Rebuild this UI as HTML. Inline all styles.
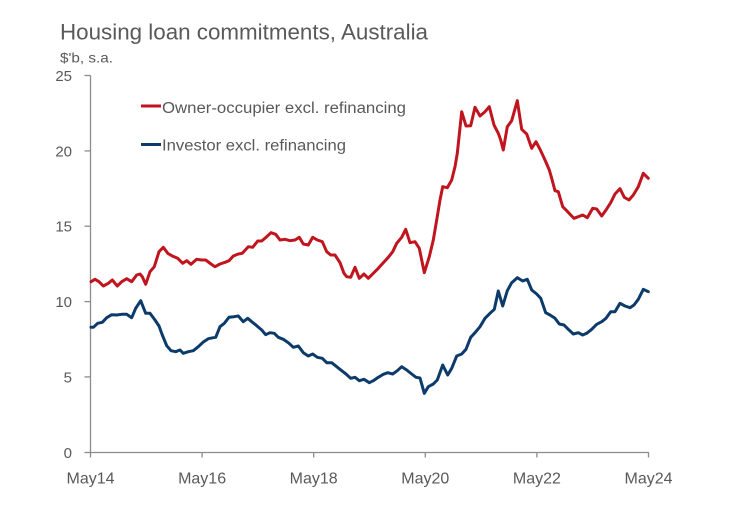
<!DOCTYPE html>
<html><head><meta charset="utf-8"><style>
html,body{margin:0;padding:0;background:#fff;}
svg{display:block;}
text{font-family:"Liberation Sans",Arial,sans-serif;fill:#595959;}
</style></head><body>
<svg width="745" height="511" viewBox="0 0 745 511" xmlns="http://www.w3.org/2000/svg">
<rect width="745" height="511" fill="#fff"/>
<text x="60" y="39.5" font-size="22" textLength="368" lengthAdjust="spacingAndGlyphs">Housing loan commitments, Australia</text>
<text x="60" y="62.5" font-size="14" textLength="53" lengthAdjust="spacingAndGlyphs">$'b, s.a.</text>
<g stroke="#8c8c8c" stroke-width="1.3" fill="none">
<line x1="90.5" y1="75.5" x2="90.5" y2="452.5"/>
<line x1="90" y1="452.5" x2="649" y2="452.5"/>
<line x1="84.5" y1="75.5" x2="90.5" y2="75.5"/>
<line x1="84.5" y1="150.9" x2="90.5" y2="150.9"/>
<line x1="84.5" y1="226.2" x2="90.5" y2="226.2"/>
<line x1="84.5" y1="301.6" x2="90.5" y2="301.6"/>
<line x1="84.5" y1="376.9" x2="90.5" y2="376.9"/>
<line x1="84.5" y1="452.5" x2="90.5" y2="452.5"/>
<line x1="90.5" y1="452.5" x2="90.5" y2="457.5"/>
<line x1="202.1" y1="452.5" x2="202.1" y2="457.5"/>
<line x1="313.7" y1="452.5" x2="313.7" y2="457.5"/>
<line x1="425.3" y1="452.5" x2="425.3" y2="457.5"/>
<line x1="536.9" y1="452.5" x2="536.9" y2="457.5"/>
<line x1="648.5" y1="452.5" x2="648.5" y2="457.5"/>
</g>
<g font-size="15" text-anchor="end">
<text x="72" y="81">25</text>
<text x="72" y="156.4">20</text>
<text x="72" y="231.7">15</text>
<text x="72" y="307.1">10</text>
<text x="72" y="382.4">5</text>
<text x="72" y="458">0</text>
</g>
<g font-size="16" text-anchor="middle">
<text x="90.5" y="483.5">May14</text>
<text x="202.1" y="483.5">May16</text>
<text x="313.7" y="483.5">May18</text>
<text x="425.3" y="483.5">May20</text>
<text x="536.9" y="483.5">May22</text>
<text x="648.5" y="483.5">May24</text>
</g>
<line x1="141" y1="106" x2="161" y2="106" stroke="#C0141E" stroke-width="3"/>
<text x="162" y="113" font-size="15.5" textLength="244" lengthAdjust="spacingAndGlyphs">Owner-occupier excl. refinancing</text>
<line x1="141" y1="144.5" x2="161" y2="144.5" stroke="#0C3B6B" stroke-width="3"/>
<text x="162" y="150.5" font-size="15.5" textLength="184" lengthAdjust="spacingAndGlyphs">Investor excl. refinancing</text>
<polyline fill="none" stroke="#C0141E" stroke-width="3" stroke-linejoin="round" stroke-linecap="round" points="91,281.7 95,279.3 99,281.7 103.3,286 108.3,283.3 112.3,280 117.3,286 121.7,281.7 126.7,278.7 131.7,281.7 136.7,275 140,274 142.3,276.7 145.7,284.3 150,271.7 154.3,266.7 159,251.7 163.3,247.3 167.7,253.3 172.3,256 177.7,258.3 182.7,263.3 186.7,260.7 191,264.3 196.7,259.3 201.7,260 205.7,260 211,264 215,266.7 220,264 225,262.3 229,260.7 233.3,256 238.3,254 242.3,253.3 248.3,246.7 252.7,247.3 257.7,241 261.7,241 266.7,236.7 271,232.7 275.7,234.3 280,240 285,239.3 290,240.7 295,240 299.3,237.3 303.3,244 308.3,245 312.7,237.3 317.3,240 322.3,241.7 326.7,251.7 330.7,255 335,255 340,262.7 344,273.3 346.7,276.7 350.7,277.3 355,267.3 359.3,278.3 364,274 368.3,278.3 373.3,273.3 378.3,268.3 383.3,262.7 388.3,257.3 392.7,251.7 396.7,243.3 401.7,237.3 405.7,229.3 410,242.7 415,241.7 419.3,248.3 424.3,272.7 429.3,256.7 433.3,240 436.7,220 440,200 442.7,186.7 447.3,187.7 451.7,180 455,166.7 457.3,153.3 461.7,111.7 466,126 470.7,125.7 475,107.3 480,116 485,111.7 489.3,106.7 494,125 498.3,133.3 500.7,140 503.3,150 507.3,126.7 511.7,120.7 517.3,100.7 521.7,129.3 526.7,134 531.7,148.3 536,141.7 540,149.3 545,160 549.3,170 551.7,178.3 555,190.7 558.3,191.7 562.7,206.7 566.7,210.7 570.7,215 574,218.3 578.3,216.7 582.7,215 587.3,217.7 592.7,208.3 596.7,209 601.7,216 606,210 610.7,202.7 615,194 620,188.7 624.3,197.3 629,200 633.3,195 638.3,186.7 643.3,173.3 648.3,178.3"/>
<polyline fill="none" stroke="#0C3B6B" stroke-width="3" stroke-linejoin="round" stroke-linecap="round" points="91,327.3 93.3,327.3 97.7,323.3 102.3,322.3 106.7,317.7 111.7,314.7 116.7,315 121.7,314.3 126.7,314.3 131.7,317.7 135.7,308.3 140.7,300.7 145.7,313.3 150,313.3 155,320 159,326 162.3,335 166.7,345.7 171,350.7 175.7,351.7 180,350 183.3,353.3 188.3,351.7 193.3,350.7 198.3,346.7 203.3,342 208.3,338.7 213.3,337.7 215.7,337.3 220,326.7 224.3,323.3 229,317.3 234,316.7 238.3,316 243.3,321.7 247.7,318.3 251.7,321.7 256.7,325.7 261.7,330 265.7,334.7 270,332.7 274.3,333.3 278.3,337.3 283.3,339.3 288.3,342.7 293.3,347.3 298.3,346 303.3,352.7 308.3,356 312.7,354 317.3,357.3 322.3,358.3 326.7,362.7 331.7,362.7 336.7,366.7 341.7,370.7 346,374 350.7,378.3 355,377.3 359.3,380.7 364,379.3 369.3,382.7 373.3,380.7 378.3,377.3 383.3,374.3 387.7,372.7 392.7,374 397.3,370.7 401.7,366.7 406.7,370 411.7,374 416,377.3 420,378 424.3,393.3 428.3,386.7 433.3,384 437.3,380 442.7,365 447.7,375 451.7,368.3 456.7,356 461.7,354 466,349.3 470.7,337.3 475,332.7 480,326.7 485,318.3 490,313.3 494.3,309.3 498.3,291 502.7,306 507.3,290.7 511.7,282.7 517.3,277.7 522.7,281 527.3,279.3 531.7,290 536.7,294 540.7,298.3 545.7,312.7 550,315 555,318.3 559.3,324 564,325 568.3,329.3 573.3,334 578.3,332.7 582.7,335 586.7,333.3 591.7,329.3 596.7,324.3 601.7,321.7 606,318.3 610.7,311.7 615,311.7 620,303.3 625,306 630,307.7 634,305 638.3,299.3 643.3,289.3 648.3,291.7"/>
</svg>
</body></html>
